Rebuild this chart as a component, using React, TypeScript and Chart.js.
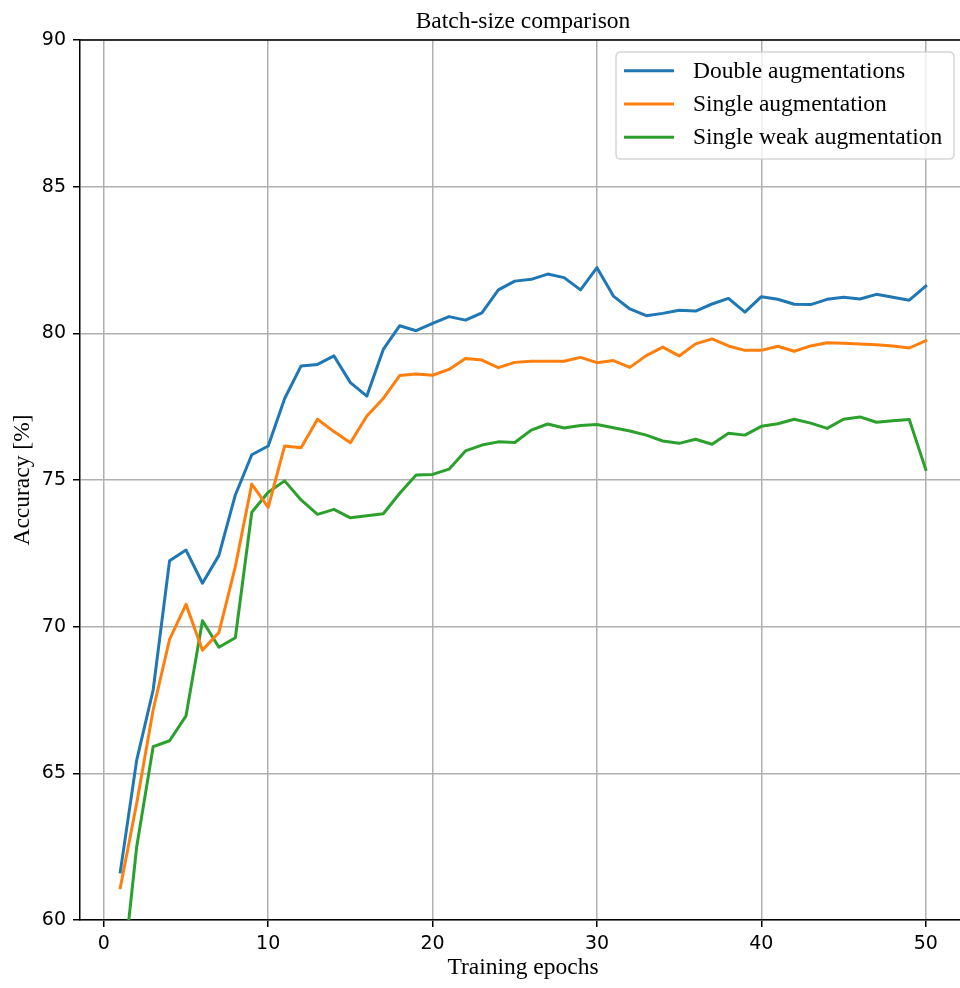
import React, { useEffect, useRef } from "react";
import { Chart, registerables } from "chart.js";

Chart.register(...registerables);

const TITLE = "Batch-size comparison";
const X_LABEL = "Training epochs";
const Y_LABEL = "Accuracy [%]";

const EPOCHS = [1, 2, 3, 4, 5, 6, 7, 8, 9, 10, 11, 12, 13, 14, 15, 16, 17, 18, 19, 20, 21, 22, 23, 24, 25, 26, 27, 28, 29, 30, 31, 32, 33, 34, 35, 36, 37, 38, 39, 40, 41, 42, 43, 44, 45, 46, 47, 48, 49, 50];

const DOUBLE_AUG = [61.64, 65.45, 67.84, 72.25, 72.61, 71.48, 72.43, 74.49, 75.86, 76.16, 77.78, 78.89, 78.94, 79.23, 78.32, 77.86, 79.45, 80.26, 80.09, 80.34, 80.57, 80.45, 80.70, 81.48, 81.78, 81.84, 82.02, 81.90, 81.48, 82.24, 81.27, 80.83, 80.60, 80.68, 80.79, 80.76, 81.00, 81.19, 80.72, 81.25, 81.16, 80.99, 80.98, 81.16, 81.23, 81.17, 81.33, 81.23, 81.13, 81.61];

const SINGLE_AUG = [61.10, 63.98, 67.16, 69.57, 70.76, 69.20, 69.80, 72.05, 74.86, 74.07, 76.16, 76.10, 77.07, 76.65, 76.27, 77.18, 77.78, 78.56, 78.61, 78.57, 78.77, 79.14, 79.09, 78.83, 79.01, 79.05, 79.05, 79.05, 79.18, 79.00, 79.07, 78.84, 79.24, 79.53, 79.23, 79.64, 79.81, 79.57, 79.42, 79.42, 79.56, 79.39, 79.57, 79.68, 79.66, 79.64, 79.61, 79.57, 79.50, 79.75];

const SINGLE_WEAK_AUG = [57.30, 62.50, 65.91, 66.11, 66.96, 70.20, 69.30, 69.62, 73.90, 74.58, 74.97, 74.32, 73.83, 74.00, 73.71, 73.78, 73.85, 74.55, 75.17, 75.19, 75.37, 75.99, 76.19, 76.30, 76.28, 76.70, 76.91, 76.77, 76.86, 76.89, 76.78, 76.67, 76.53, 76.33, 76.25, 76.39, 76.22, 76.59, 76.53, 76.83, 76.92, 77.07, 76.94, 76.76, 77.07, 77.15, 76.97, 77.02, 77.06, 75.36];

const SERIES_LABELS = ["Double augmentations", "Single augmentation", "Single weak augmentation"];
const SERIES_COLORS = ["#1f77b4", "#ff7f0e", "#2ca02c"];

const X_TICKS = [0, 10, 20, 30, 40, 50];
const Y_TICKS = [60, 65, 70, 75, 80, 85, 90];

const SERIF = "'Liberation Serif', 'Times New Roman', serif";
const SANS = "'DejaVu Sans', sans-serif";
const TEXT_SIZE = 23.5;
const TICK_SIZE = 19;

const decorPlugin = {
  id: "decor",
  afterDatasetsDraw(chart: any) {
    const { ctx, chartArea } = chart;
    ctx.save();
    // top spine
    ctx.strokeStyle = "#000";
    ctx.lineWidth = 1.5;
    ctx.beginPath();
    ctx.moveTo(chartArea.left, chartArea.top);
    ctx.lineTo(chartArea.right, chartArea.top);
    ctx.stroke();
    // title
    ctx.fillStyle = "#000";
    ctx.font = `${TEXT_SIZE}px ${SERIF}`;
    ctx.textAlign = "center";
    ctx.textBaseline = "alphabetic";
    ctx.fillText(TITLE, (chartArea.left + chartArea.right) / 2, 28);

    // legend
    const boxL = 616, boxT = 52, boxR = 954, boxB = 159;
    const r = 5;
    ctx.beginPath();
    ctx.moveTo(boxL + r, boxT);
    ctx.lineTo(boxR - r, boxT);
    ctx.quadraticCurveTo(boxR, boxT, boxR, boxT + r);
    ctx.lineTo(boxR, boxB - r);
    ctx.quadraticCurveTo(boxR, boxB, boxR - r, boxB);
    ctx.lineTo(boxL + r, boxB);
    ctx.quadraticCurveTo(boxL, boxB, boxL, boxB - r);
    ctx.lineTo(boxL, boxT + r);
    ctx.quadraticCurveTo(boxL, boxT, boxL + r, boxT);
    ctx.closePath();
    ctx.fillStyle = "rgba(255,255,255,0.8)";
    ctx.fill();
    ctx.strokeStyle = "rgba(204,204,204,0.8)";
    ctx.lineWidth = 1.5;
    ctx.stroke();

    const rowY = [70.7, 104, 137.3];
    chart.data.datasets.forEach((ds: any, i: number) => {
      const y = rowY[i];
      ctx.strokeStyle = ds.borderColor;
      ctx.lineWidth = 3;
      ctx.lineCap = "butt";
      ctx.beginPath();
      ctx.moveTo(624, y);
      ctx.lineTo(674, y);
      ctx.stroke();
      ctx.fillStyle = "#000";
      ctx.font = `${TEXT_SIZE}px ${SERIF}`;
      ctx.textAlign = "left";
      ctx.textBaseline = "alphabetic";
      ctx.fillText(ds.label, 693, y + 7);
    });
    ctx.restore();
  },
};

export default function App() {
  const ref = useRef<HTMLCanvasElement | null>(null);

  useEffect(() => {
    if (!ref.current) return;
    const seriesValues = [DOUBLE_AUG, SINGLE_AUG, SINGLE_WEAK_AUG];
    const chart = new Chart(ref.current, {
      type: "line",
      data: {
        datasets: seriesValues.map((vals, i) => ({
          label: SERIES_LABELS[i],
          data: EPOCHS.map((e, j) => ({ x: e, y: vals[j] })),
          borderColor: SERIES_COLORS[i],
          backgroundColor: SERIES_COLORS[i],
          borderWidth: 3,
          pointRadius: 0,
          pointHoverRadius: 0,
          tension: 0,
          fill: false,
          borderJoinStyle: "round",
          borderCapStyle: "square",
          clip: 0,
        })),
      },
      options: {
        responsive: false,
        animation: false,
        events: [],
        layout: { padding: { top: 40, left: 0, right: 0, bottom: 0 } },
        plugins: {
          legend: { display: false },
          title: { display: false },
          tooltip: { enabled: false },
        },
        scales: {
          x: {
            type: "linear",
            min: -1.45,
            max: 52.45,
            afterBuildTicks: (s: any) => {
              s.ticks = X_TICKS.map((v) => ({ value: v }));
            },
            afterFit: (s: any) => {
              s.height = 68;
            },
            ticks: {
              autoSkip: false,
              maxRotation: 0,
              padding: 6,
              color: "#000",
              font: { family: SANS, size: TICK_SIZE },
            },
            grid: {
              color: "#b0b0b0",
              lineWidth: 1.5,
              tickColor: "#000",
              tickLength: 7,
              tickWidth: 1.5,
            },
            border: { color: "#000", width: 1.5 },
            title: {
              display: true,
              text: X_LABEL,
              color: "#000",
              font: { family: SERIF, size: TEXT_SIZE },
              padding: { top: 0, bottom: 6 },
            },
          },
          y: {
            type: "linear",
            min: 60,
            max: 90,
            afterBuildTicks: (s: any) => {
              s.ticks = Y_TICKS.map((v) => ({ value: v }));
            },
            afterFit: (s: any) => {
              s.width = 80;
            },
            ticks: {
              padding: 7,
              color: "#000",
              font: { family: SANS, size: TICK_SIZE },
            },
            grid: {
              color: "#b0b0b0",
              lineWidth: 1.5,
              tickColor: "#000",
              tickLength: 7,
              tickWidth: 1.5,
            },
            border: { color: "#000", width: 1.5 },
            title: {
              display: true,
              text: Y_LABEL,
              color: "#000",
              font: { family: SERIF, size: TEXT_SIZE },
              padding: { top: 9, bottom: 0 },
            },
          },
        },
      },
      plugins: [decorPlugin],
    } as any);
    return () => chart.destroy();
  }, []);

  return (
    <div
      style={{
        position: "absolute",
        left: 0,
        top: 0,
        width: 960,
        height: 988,
        overflow: "hidden",
        background: "#fff",
      }}
    >
      <canvas ref={ref} width={966} height={988} style={{ width: 966, height: 988, display: "block" }} />
    </div>
  );
}
